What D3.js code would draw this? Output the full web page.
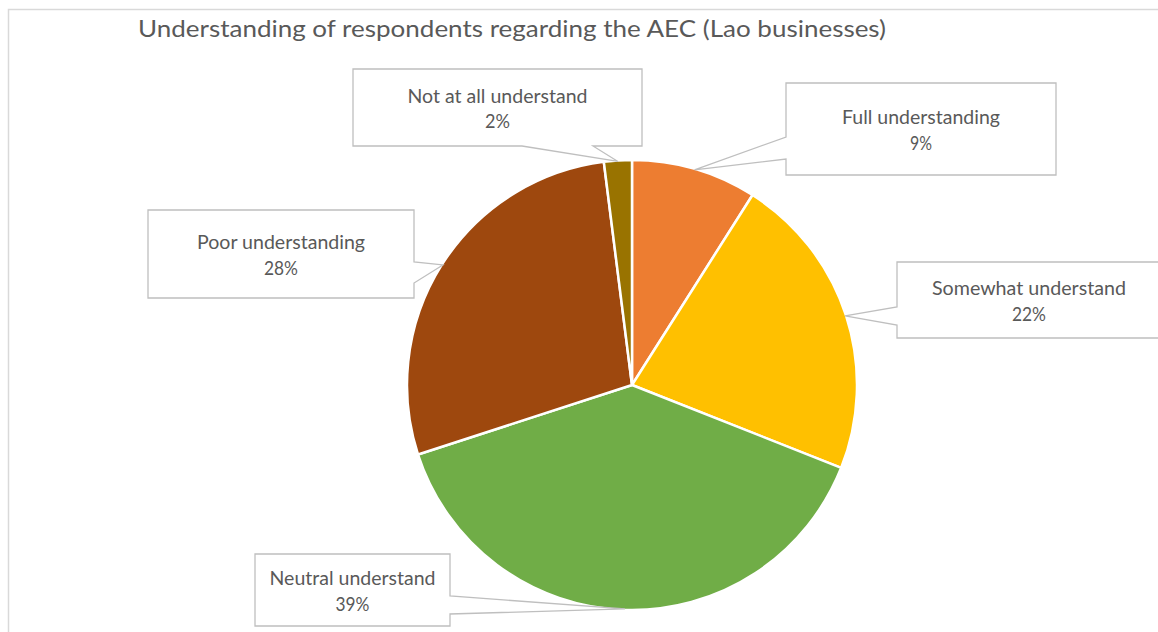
<!DOCTYPE html>
<html>
<head>
<meta charset="utf-8">
<script src="https://cdn.jsdelivr.net/npm/d3@7"></script>
<style>
  html, body { margin: 0; padding: 0; background: #fff; }
  svg { display: block; }
  text { font-family: Lato, "Open Sans", sans-serif; fill: #595959; }
</style>
</head>
<body>
<svg id="chart" width="1158" height="632"></svg>
<script>
// Survey answers, clockwise from 12 o'clock
const categories = ["Full understanding", "Somewhat understand", "Neutral understand", "Poor understanding", "Not at all understand"];
const shares = [9, 22, 39, 28, 2];
const colors = ["#ED7D31", "#FFC000", "#70AD47", "#9E480E", "#997300"];
const titleText = "Understanding of respondents regarding the AEC (Lao businesses)";

// Callout boxes: position, size, the side the pointer leaves from and where along it
const callouts = [
  { x: 786, y: 83,  w: 270, h: 92, side: "left",   a: 54,  b: 76,  tl: [158, 22] },
  { x: 897, y: 262, w: 264, h: 76, side: "left",   a: 45,  b: 63,  tl: [194, 34] },
  { x: 255, y: 554, w: 195, h: 72, side: "right",  a: 42,  b: 60,  tl: [166, 34] },
  { x: 148, y: 210, w: 266, h: 88, side: "right",  a: 52,  b: 73,  tl: [168, 34] },
  { x: 353, y: 69,  w: 289, h: 77, side: "bottom", a: 169, b: 240, tl: [180, 25] }
];

const W = 1158, H = 632;
const cx = 632, cy = 385, R = 225;
const svg = d3.select("#chart");

// chart area frame
svg.append("rect")
  .attr("x", 8.5).attr("y", 9.5)
  .attr("width", W + 10).attr("height", H + 10)
  .attr("fill", "#fff")
  .attr("stroke", "#d9d9d9").attr("stroke-width", 1.5);

svg.append("text")
  .attr("x", 138).attr("y", 37)
  .attr("font-size", 22.5)
  .attr("textLength", 748).attr("lengthAdjust", "spacingAndGlyphs")
  .text(titleText);

const pie = d3.pie().sort(null).value(d => d).startAngle(0).endAngle(2 * Math.PI);
const arcs = pie(shares);
const arc = d3.arc().innerRadius(0).outerRadius(R);

const g = svg.append("g").attr("transform", `translate(${cx},${cy})`);
g.selectAll("path.slice")
  .data(arcs)
  .join("path")
  .attr("class", "slice")
  .attr("d", arc)
  .attr("fill", (d, i) => colors[i])
  .attr("stroke", "#fff")
  .attr("stroke-width", 2.5)
  .attr("stroke-linejoin", "round");

// point on the rim at the middle of a slice, in page coordinates
function rimPoint(d, r) {
  const a = (d.startAngle + d.endAngle) / 2;
  return [cx + r * Math.sin(a), cy - r * Math.cos(a)];
}

function calloutPath(c, tip) {
  const { x, y, w, h, a, b } = c;
  const TL = [x, y], TR = [x + w, y], BR = [x + w, y + h], BL = [x, y + h];
  let pts;
  if (c.side === "top") pts = [TL, [x + a, y], tip, [x + b, y], TR, BR, BL];
  else if (c.side === "right") pts = [TL, TR, [x + w, y + a], tip, [x + w, y + b], BR, BL];
  else if (c.side === "bottom") pts = [TL, TR, BR, [x + b, y + h], tip, [x + a, y + h], BL];
  else pts = [TL, TR, BR, BL, [x, y + b], tip, [x, y + a]];
  return "M" + pts.map(p => p.join(",")).join("L") + "Z";
}

const labels = svg.append("g");
arcs.forEach((d, i) => {
  const c = callouts[i];
  const tip = rimPoint(d, R - 1);
  labels.append("path")
    .attr("d", calloutPath(c, tip))
    .attr("fill", "#fff")
    .attr("stroke", "#bfbfbf")
    .attr("stroke-width", 1.3)
    .attr("stroke-linejoin", "miter");
  const mx = c.x + c.w / 2, my = c.y + c.h / 2;
  labels.append("text")
    .attr("x", mx).attr("y", my - 5)
    .attr("text-anchor", "middle")
    .attr("font-size", 18.5)
    .attr("textLength", c.tl[0]).attr("lengthAdjust", "spacingAndGlyphs")
    .text(categories[i]);
  labels.append("text")
    .attr("x", mx).attr("y", my + 20.5)
    .attr("text-anchor", "middle")
    .attr("font-size", 18.5)
    .attr("textLength", c.tl[1]).attr("lengthAdjust", "spacingAndGlyphs")
    .text(d.data + "%");
});
</script>
</body>
</html>
